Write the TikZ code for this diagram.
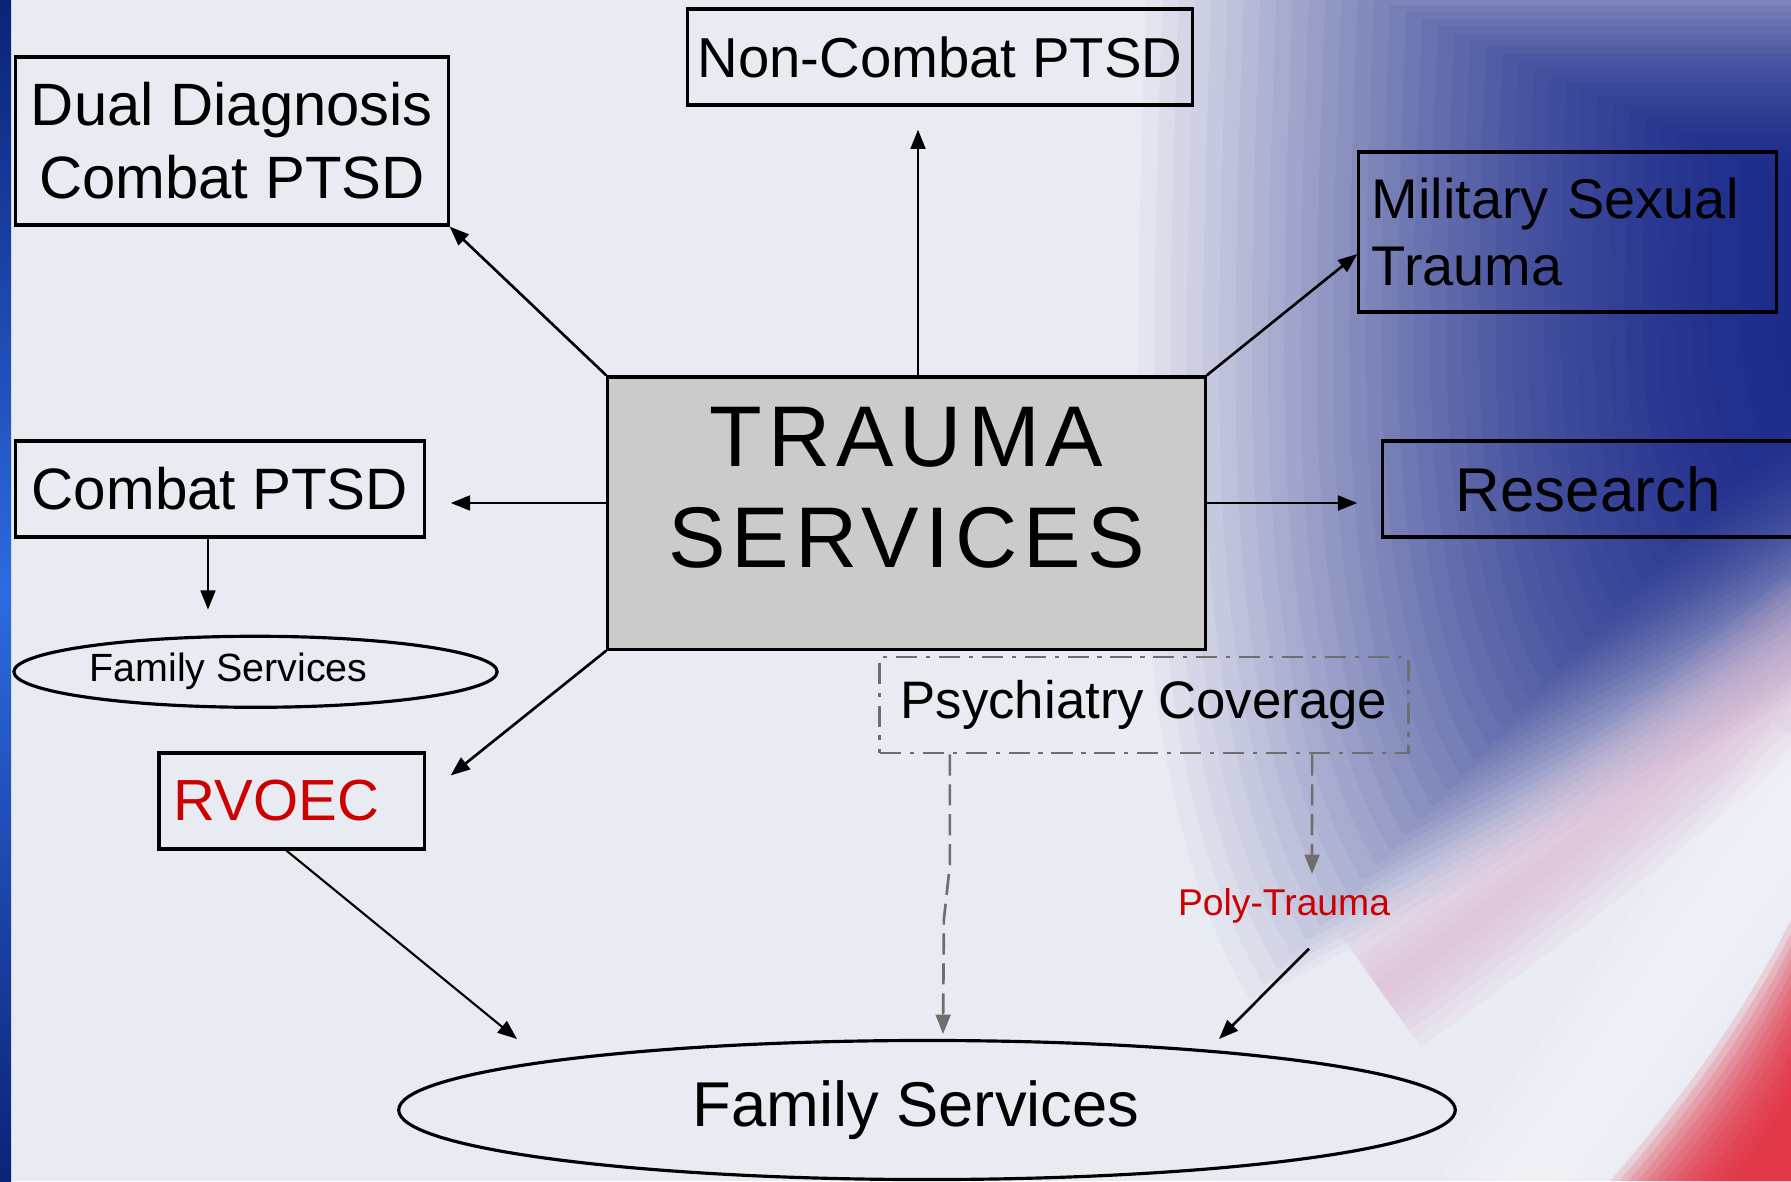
\documentclass[tikz,border=0pt]{standalone}
\usepackage{fontspec}
\setmainfont{Liberation Sans}
\newfontfamily\hubfont[LetterSpace=7]{Liberation Sans}
\usetikzlibrary{positioning, arrows.meta, shapes.geometric, calc}

\definecolor{slidebg}{HTML}{E9EBF3}
\definecolor{washblue}{HTML}{16248A}
\definecolor{washpink}{HTML}{D9A6C8}
\definecolor{washred}{HTML}{E2283A}
\definecolor{stripnavy}{HTML}{0B2277}
\definecolor{stripblue}{HTML}{2C6BE0}
\definecolor{hubgray}{HTML}{CBCBCB}
\definecolor{linkgray}{HTML}{6E6E6E}
\definecolor{alertred}{HTML}{CC0000}

\begin{document}
\begin{tikzpicture}[x=0.01cm, y=-0.01cm,
        >={Triangle[length=5.5pt, width=4.2pt]},
        % Styles
        box/.style={rectangle, draw, line width=0.9pt, inner sep=0pt, align=center},
        hubbox/.style={rectangle, draw, line width=0.9pt, fill=hubgray},
        hubtext/.style={font=\hubfont\fontsize{24.5}{28.6}\selectfont, align=center, inner sep=0pt},
        famnode/.style={ellipse, draw, line width=0.9pt, inner sep=0pt},
        psychbox/.style={rectangle, draw=linkgray, line width=0.8pt,
                dash pattern=on 6pt off 2.5pt on 1.2pt off 2.5pt, inner sep=0pt},
        redtext/.style={text=alertred},
        arrow/.style={->, line width=0.75pt},
        thinarrow/.style={->, line width=0.6pt},
        dasharrow/.style={->, draw=linkgray, line width=0.75pt, dash pattern=on 6pt off 2.5pt},
    ]

    \useasboundingbox (0,0) rectangle (1791,1181);

    % === BACKGROUND ===
    \begin{scope}
        \clip (0,0) rectangle (1791,1181);
        \fill[slidebg] (0,0) rectangle (1791,1181);

        % blue wash, thin layers getting denser toward the upper right
        \foreach \s [evaluate=\s as \op using 0.03+0.1*(1-\s)] in {1.00,0.98,...,0.20}
            \fill[washblue, opacity=\op, scale around={\s:(1950,250)}]
                (1150,-100) .. controls (1140,150) and (1135,350) .. (1140,500)
                .. controls (1150,750) and (1190,900) .. (1250,1000)
                .. controls (1450,900) and (1640,790) .. (1791,700)
                -- (2200,650) -- (2200,-100) -- cycle;

        % pink fringe and white band below it
        \foreach \w in {0.2,0.4,...,1.4}
            \draw[washpink, line width=\w cm, opacity=0.09]
                (1380,990) .. controls (1520,890) and (1660,780) .. (1830,630);
        \foreach \w in {0.3,0.6,...,1.8}
            \draw[white, line width=\w cm, opacity=0.1]
                (1500,1220) .. controls (1630,1060) and (1720,900) .. (1830,770);

        % red corner
        \foreach \s in {1.00,0.95,...,0.30}
            \fill[washred, opacity=0.15, scale around={\s:(1791,1181)}]
                (1610,1181) .. controls (1680,1100) and (1740,1020) .. (1791,920)
                -- (1791,1181) -- cycle;

        % left edge strip
        \shade[top color=stripnavy, bottom color=stripnavy, middle color=stripblue]
            (0,0) rectangle (11,1181);
    \end{scope}

    % === HUB ===
    \node[hubbox, minimum width=5.97cm, minimum height=2.72cm] (hub) at (906.5,513) {};
    \node[hubtext] (hubtitle) at ([yshift=0.25cm]hub.center) {TRAUMA\\SERVICES};

    % === TOP ROW ===
    \node[box, minimum width=4.32cm, minimum height=1.68cm,
        font=\fontsize{17}{20.8}\selectfont] (dual) at (232,141) {Dual Diagnosis\\Combat PTSD};
    \node[box, minimum width=5.04cm, minimum height=0.96cm,
        font=\fontsize{16}{19}\selectfont] (noncombat) at (940,57) {Non-Combat PTSD};
    \node[box, minimum height=1.60cm, text width=3.91cm, inner xsep=0.13cm, align=left,
        font=\fontsize{15.9}{18.8}\selectfont] (mst) at (1567.5,232) {Military Sexual\\Trauma};

    % === MIDDLE ROW ===
    \node[box, minimum width=4.08cm, minimum height=0.96cm,
        font=\fontsize{16.6}{20}\selectfont] (combat) at (220,489) {Combat PTSD};
    \node[box, minimum width=4.10cm, minimum height=0.96cm,
        font=\fontsize{17.6}{21}\selectfont] (research) at (1588,489) {Research};
    \node[famnode, minimum width=4.83cm, minimum height=0.71cm,
        font=\fontsize{11.2}{13}\selectfont, below=0.96cm of combat, xshift=0.355cm]
        (famsmall) {Family Services\hspace*{0.54cm}};

    % === LOWER ROW ===
    \node[box, redtext, minimum height=0.96cm, text width=2.35cm, inner xsep=0.15cm, align=left,
        font=\fontsize{16.5}{20}\selectfont] (rvoec) at (291.5,801) {RVOEC};
    \node[psychbox, minimum width=5.28cm, minimum height=0.96cm,
        font=\fontsize{15}{18}\selectfont] (psych) at (1144,705) {Psychiatry Coverage};
    \node[redtext, inner sep=0pt, font=\fontsize{10.6}{12}\selectfont] (poly) at (1284,906) {Poly-Trauma};
    \node[famnode, minimum width=10.56cm, minimum height=1.39cm,
        font=\fontsize{18}{21}\selectfont] (family) at (927,1110) {Family Services\hspace*{0.22cm}};

    % Hub out to the programs
    \draw[arrow] (hub.north west) -- (dual.south east);
    \draw[arrow, shorten >=0.23cm] ([xshift=0.115cm]hub.north) -- ([xshift=0.115cm]hub.north |- noncombat.south);
    \draw[arrow] (hub.north east) -- ([yshift=-0.22cm]mst.west);
    \draw[arrow, shorten >=0.25cm] ([yshift=0.1cm]hub.west) -- ([yshift=0.1cm]hub.west -| combat.east);
    \draw[arrow, shorten >=0.24cm] ([yshift=0.1cm]hub.east) -- ([yshift=0.1cm]hub.east -| research.west);
    \draw[arrow] (hub.south west) -- ([xshift=0.25cm, yshift=-0.24cm]rvoec.north east);
    \draw[arrow, shorten >=0.25cm] ([xshift=-0.12cm]combat.south) -- ([xshift=-0.12cm]combat.south |- famsmall.north);

    % Into family services
    \coordinate (rvoecin) at (517,1039);
    \coordinate (psychin) at (943,1034);
    \coordinate (polyin) at (1312,874);
    \coordinate (polyend) at (1219,1039);
    \draw[thinarrow] ([xshift=-0.05cm]rvoec.south) -- (rvoecin);
    \draw[dasharrow] ([xshift=-1.94cm]psych.south) -- ++(0,110) -- ++(-6,55) -- (psychin);
    \draw[dasharrow] ([xshift=1.68cm]psych.south) -- (polyin);
    \draw[arrow] ([xshift=0.25cm, yshift=-0.245cm]poly.south) -- (polyend);

\end{tikzpicture}
\end{document}
